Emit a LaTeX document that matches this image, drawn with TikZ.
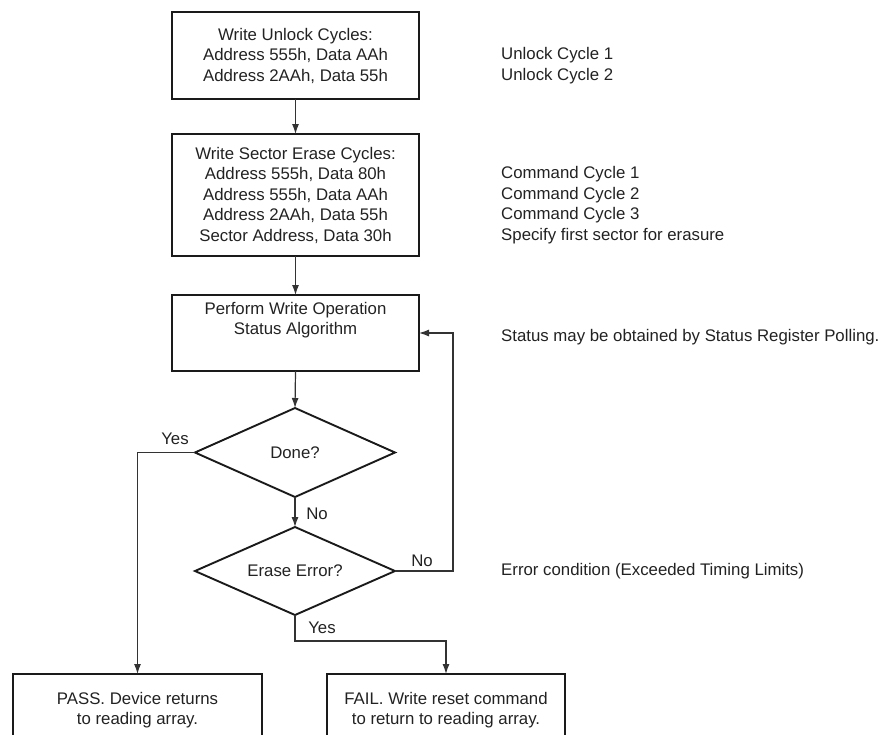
\documentclass[tikz,border=0pt]{standalone}
\usepackage{fontspec}
\setmainfont{Liberation Sans}
\usetikzlibrary{shapes.geometric,arrows.meta}
\definecolor{ln}{HTML}{1A1A1A}
\definecolor{cn}{HTML}{333333}
\definecolor{txt}{HTML}{222222}
\begin{document}
\begin{tikzpicture}[x=1pt,y=-1pt,
  every node/.style={font=\fontsize{16.8}{20.5}\selectfont, text=txt},
  box/.style={draw=ln, line width=1.4pt, minimum width=247pt, inner sep=0pt, outer sep=0pt, align=center},
  thickedge/.style={draw=ln, line width=2.8pt},
  dia/.style={diamond, draw=ln, line width=1.9pt, minimum width=200pt, minimum height=89pt, inner sep=0pt, aspect=2.2, outer sep=0pt},
  conn/.style={draw=cn, line width=1.2pt},
  arr/.style={conn, -{Latex[length=10pt,width=7pt]}},
  side/.style={anchor=west, align=left, inner sep=0pt},
  lbl/.style={inner sep=0pt},
]
\useasboundingbox (0,0) rectangle (882,734);
\clip (0,0) rectangle (882,734);

% boxes
\node[box, minimum height=87pt] (b1) at (295.5,55.5)
  {Write Unlock Cycles:\\Address 555h, Data AAh\\Address 2AAh, Data 55h};
\node[box, minimum height=122pt] (b2) at (295.5,195)
  {Write Sector Erase Cycles:\\Address 555h, Data 80h\\Address 555h, Data AAh\\Address 2AAh, Data 55h\\Sector Address, Data 30h};
\node[box, minimum height=76pt] (b3) at (295.5,333) {};
\node[align=center, inner sep=0pt] (t3) at (295.5,320) {Perform Write Operation\\Status Algorithm};

\foreach \b in {b1,b2,b3}{
  \draw[thickedge] (\b.north west) -- (\b.north east);
  \draw[thickedge] (\b.south west) -- (\b.south east);
}

% decisions
\node[dia] (done) at (295,452.5) {Done?};
\node[dia, minimum height=88pt] (err) at (295,571) {Erase Error?};

% end boxes
\node[box, minimum width=249pt, minimum height=72pt] (pass) at (137.5,710)
  {PASS. Device returns\\to reading array.};
\node[box, minimum width=238pt, minimum height=72pt] (fail) at (446,710)
  {FAIL. Write reset command\\to return to reading array.};
\draw[thickedge] (pass.north west) -- (pass.north east);
\draw[thickedge] (fail.north west) -- (fail.north east);

% helper coordinates
\coordinate (loopx) at (453,0);
\coordinate (yesy) at (0,641);

% connectors
\draw[arr] (b1.south) -- (b2.north);
\draw[arr] (b2.south) -- (b3.north);
\draw[arr] (b3.south) -- (done.north);
\draw[arr] (done.south) -- (err.north);
\draw[arr] (done.west) -| (pass.north);
\draw[arr] (err.east) -- (err.east -| loopx) -- (loopx |- b3.east) -- (b3.east);
\draw[arr] (err.south) |- (yesy -| fail.north) -- (fail.north);

% labels
\node[lbl] (yes1) at (175,439) {Yes};
\node[lbl] (no1) at (317,514) {No};
\node[lbl] (no2) at (422,561) {No};
\node[lbl] (yes2) at (322,628) {Yes};

% side notes
\node[side] (s1) at (501,65.5) {Unlock Cycle 1\\Unlock Cycle 2};
\node[side] (s2) at (501,205) {Command Cycle 1\\Command Cycle 2\\Command Cycle 3\\Specify first sector for erasure};
\node[side] (s3) at (501,337) {Status may be obtained by Status Register Polling.};
\node[side] (s4) at (501,571) {Error condition (Exceeded Timing Limits)};
\end{tikzpicture}
\end{document}
